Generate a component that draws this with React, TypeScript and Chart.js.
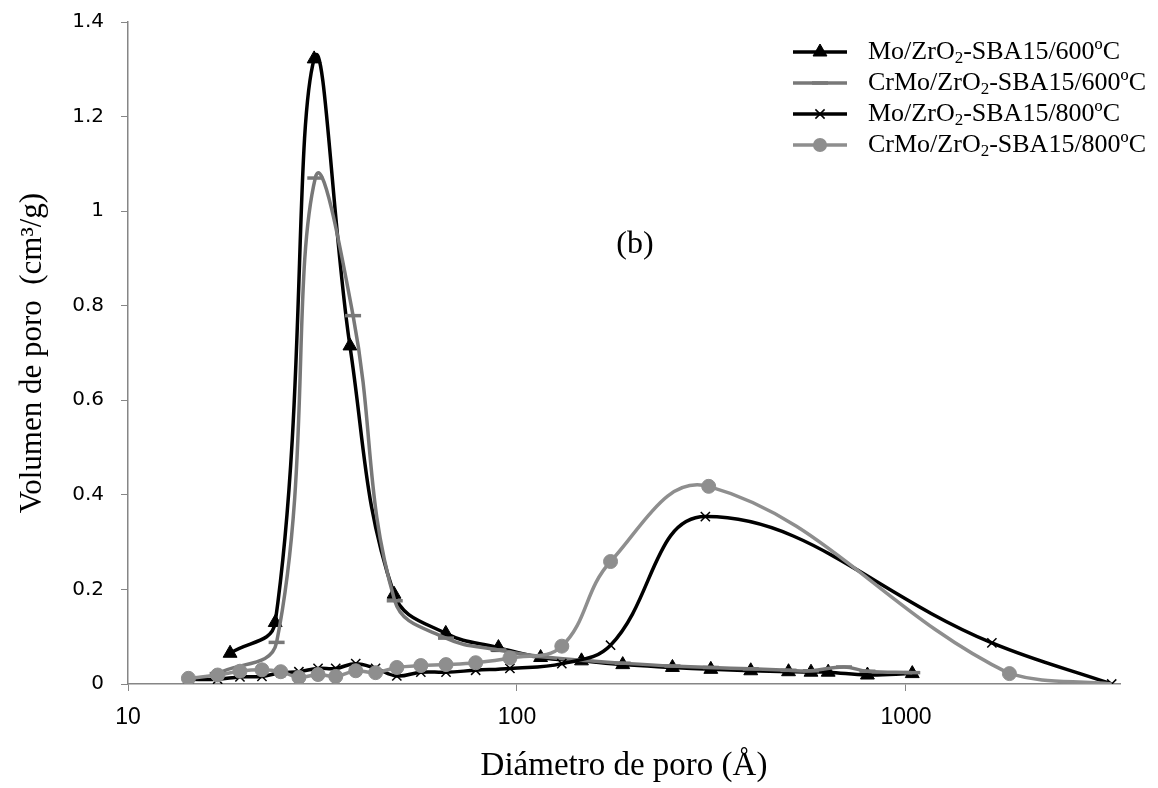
import React, { useEffect, useRef } from 'react';
import { Chart, registerables } from 'chart.js';

Chart.register(...registerables);

// ---------- data ----------
const seriesNames = [
  'Mo/ZrO2-SBA15/600ºC',
  'CrMo/ZrO2-SBA15/600ºC',
  'Mo/ZrO2-SBA15/800ºC',
  'CrMo/ZrO2-SBA15/800ºC',
];

const mo600X = [18.3, 23.9, 30.1, 37.2, 48.3, 65.6, 89.6, 115, 146.5, 187, 251, 315, 399, 499, 570, 631, 796, 1038];
const mo600Y = [0.065, 0.13, 1.322, 0.715, 0.19, 0.107, 0.077, 0.056, 0.049, 0.041, 0.035, 0.031, 0.028, 0.026, 0.025, 0.025, 0.019, 0.022];

const crmo600X = [17.0, 24.1, 30.3, 37.9, 48.5, 65.7, 89.6, 115, 146.5, 187, 251, 315, 399, 499, 570, 693, 796, 1038];
const crmo600Y = [0.022, 0.088, 1.07, 0.779, 0.176, 0.097, 0.072, 0.058, 0.05, 0.044, 0.038, 0.035, 0.032, 0.029, 0.028, 0.036, 0.027, 0.024];

const mo800X = [14.3, 17.0, 19.4, 22.1, 24.7, 27.5, 30.8, 34.2, 38.5, 43.3, 49.1, 56.6, 65.7, 78.3, 95.9, 130.4, 174, 305, 1663, 3380];
const mo800Y = [0.010, 0.010, 0.015, 0.016, 0.024, 0.026, 0.033, 0.033, 0.043, 0.033, 0.017, 0.025, 0.025, 0.029, 0.033, 0.043, 0.082, 0.354, 0.087, 0.0];

const crmo800X = [14.3, 17.0, 19.4, 22.1, 24.7, 27.5, 30.8, 34.2, 38.5, 43.3, 49.1, 56.6, 65.7, 78.3, 95.9, 130.4, 174, 311, 1845, 3380];
const crmo800Y = [0.012, 0.019, 0.027, 0.030, 0.026, 0.014, 0.020, 0.016, 0.028, 0.024, 0.035, 0.039, 0.041, 0.045, 0.055, 0.080, 0.259, 0.418, 0.022, 0.0];
// the last CrMo 800 point carries no visible marker in the original
const crmo800HiddenLast = true;

const xTickValues = [10, 100, 1000];
const yTickValues = [0, 0.2, 0.4, 0.6, 0.8, 1, 1.2, 1.4];

const xTitle = 'Diámetro de poro (Å)';
const yTitle = 'Volumen de poro  (cm³/g)';
const panelLabel = '(b)';

// ---------- styles ----------
const BLACK = '#000000';
const GRAY1 = '#787878';
const GRAY2 = '#8e8e8e';
const AXIS = '#868686';
const SERIF = '"Liberation Serif", "Times New Roman", serif';

const styles = [
  { color: BLACK, pointStyle: 'triangle', radius: 8, markerBorder: 1, markerFill: BLACK },
  { color: GRAY1, pointStyle: 'line', radius: 8, markerBorder: 3.5, markerFill: GRAY1 },
  { color: BLACK, pointStyle: 'crossRot', radius: 6.5, markerBorder: 1.5, markerFill: BLACK },
  { color: GRAY2, pointStyle: 'circle', radius: 7, markerBorder: 1, markerFill: GRAY2 },
];

const toPts = (xs: number[], ys: number[]) => xs.map((x, i) => ({ x, y: ys[i] }));

function drawMarker(ctx: CanvasRenderingContext2D, s: any, x: number, y: number) {
  const r = s.radius;
  ctx.beginPath();
  if (s.pointStyle === 'triangle') {
    ctx.moveTo(x, y - r);
    ctx.lineTo(x + r * Math.sin((2 * Math.PI) / 3), y - r * Math.cos((2 * Math.PI) / 3));
    ctx.lineTo(x + r * Math.sin((4 * Math.PI) / 3), y - r * Math.cos((4 * Math.PI) / 3));
    ctx.closePath();
    ctx.fill();
    ctx.stroke();
  } else if (s.pointStyle === 'line') {
    ctx.moveTo(x - r, y);
    ctx.lineTo(x + r, y);
    ctx.stroke();
  } else if (s.pointStyle === 'crossRot') {
    const d = r * Math.SQRT1_2;
    ctx.moveTo(x - d, y - d);
    ctx.lineTo(x + d, y + d);
    ctx.moveTo(x - d, y + d);
    ctx.lineTo(x + d, y - d);
    ctx.stroke();
  } else {
    ctx.arc(x, y, r, 0, Math.PI * 2);
    ctx.fill();
  }
}

const legendPlugin = {
  id: 'customLegend',
  afterDraw(chart: any) {
    const ctx = chart.ctx;
    const x0 = 793;
    const x1 = 847;
    const tx = 868;
    const y0 = 52;
    const dy = 31;
    ctx.save();
    seriesNames.forEach((name, i) => {
      const s = styles[i];
      const y = y0 + i * dy;
      ctx.strokeStyle = s.color;
      ctx.lineWidth = 3.5;
      ctx.beginPath();
      ctx.moveTo(x0, y);
      ctx.lineTo(x1, y);
      ctx.stroke();
      ctx.fillStyle = s.markerFill;
      ctx.strokeStyle = s.markerFill;
      ctx.lineWidth = s.markerBorder;
      drawMarker(ctx, s, (x0 + x1) / 2, y);
      const idx = name.indexOf('O2');
      const a = name.slice(0, idx + 1);
      const b = '2';
      const c = name.slice(idx + 2);
      ctx.fillStyle = '#000';
      ctx.textBaseline = 'middle';
      ctx.textAlign = 'left';
      ctx.font = `26px ${SERIF}`;
      ctx.fillText(a, tx, y);
      let w = ctx.measureText(a).width;
      ctx.font = `17px ${SERIF}`;
      ctx.fillText(b, tx + w, y + 7);
      w += ctx.measureText(b).width;
      ctx.font = `26px ${SERIF}`;
      ctx.fillText(c, tx + w, y);
    });
    const xs = chart.scales.x;
    const ys = chart.scales.y;
    ctx.font = `32px ${SERIF}`;
    ctx.textAlign = 'center';
    ctx.textBaseline = 'middle';
    ctx.fillStyle = '#000';
    ctx.fillText(panelLabel, xs.getPixelForValue(201), ys.getPixelForValue(0.93));
    ctx.restore();
  },
};

export default function App() {
  const ref = useRef<HTMLCanvasElement | null>(null);

  useEffect(() => {
    if (!ref.current) return;
    const sets = [
      toPts(mo600X, mo600Y),
      toPts(crmo600X, crmo600Y),
      toPts(mo800X, mo800Y),
      toPts(crmo800X, crmo800Y),
    ];
    const chart = new Chart(ref.current, {
      type: 'scatter',
      data: {
        datasets: sets.map((d, i) => ({
          label: seriesNames[i],
          data: d,
          showLine: true,
          borderColor: styles[i].color,
          backgroundColor: styles[i].markerFill,
          borderWidth: 3.5,
          tension: 0.4,
          pointStyle: styles[i].pointStyle as any,
          pointRadius:
            i === 3 && crmo800HiddenLast
              ? d.map((_, j) => (j === d.length - 1 ? 0 : styles[i].radius))
              : styles[i].radius,
          pointBorderWidth: styles[i].markerBorder,
          pointBorderColor: styles[i].markerFill,
          pointBackgroundColor: styles[i].markerFill,
          order: 4 - i,
        })),
      },
      options: {
        animation: false,
        responsive: true,
        maintainAspectRatio: false,
        layout: { padding: { top: 22, right: 38, left: 0, bottom: 0 } },
        plugins: {
          legend: { display: false },
          tooltip: { enabled: false },
        },
        scales: {
          x: {
            type: 'logarithmic',
            min: 10,
            max: 3550,
            afterFit: (s: any) => {
              s.height = 104;
              s.paddingLeft = 0;
              s.paddingRight = 0;
            },
            afterBuildTicks: (s: any) => {
              s.ticks = xTickValues.map((v) => ({ value: v }));
            },
            border: { display: true, color: AXIS, width: 1.5 },
            grid: { display: true, drawOnChartArea: false, drawTicks: true, tickLength: 7, color: AXIS },
            ticks: {
              color: '#000',
              padding: 13,
              autoSkip: false,
              maxRotation: 0,
              font: { family: '"Liberation Sans", sans-serif', size: 23 },
              callback: (v: any) => String(v),
            },
            title: {
              display: true,
              text: xTitle,
              color: '#000',
              font: { family: SERIF, size: 33 },
              padding: { top: 0, bottom: 2 },
            },
          },
          y: {
            min: 0,
            max: 1.4,
            afterFit: (s: any) => {
              s.width = 128;
              s.paddingTop = 0;
              s.paddingBottom = 0;
            },
            afterBuildTicks: (s: any) => {
              s.ticks = yTickValues.map((v) => ({ value: v }));
            },
            border: { display: true, color: AXIS, width: 1.5 },
            grid: { display: true, drawOnChartArea: false, drawTicks: true, tickLength: 7, color: AXIS },
            ticks: {
              color: '#000',
              padding: 17,
              font: { family: '"DejaVu Sans", sans-serif', size: 20 },
              callback: (v: any) => String(Math.round(v * 10) / 10),
            },
            title: {
              display: true,
              text: yTitle,
              color: '#000',
              font: { family: SERIF, size: 31 },
              padding: { top: 14, bottom: 0 },
            },
          },
        },
      },
      plugins: [legendPlugin],
    });
    return () => chart.destroy();
  }, []);

  return (
    <div style={{ position: 'fixed', left: 0, top: 0, width: 1158, height: 788, background: '#fff' }}>
      <canvas ref={ref} />
    </div>
  );
}
